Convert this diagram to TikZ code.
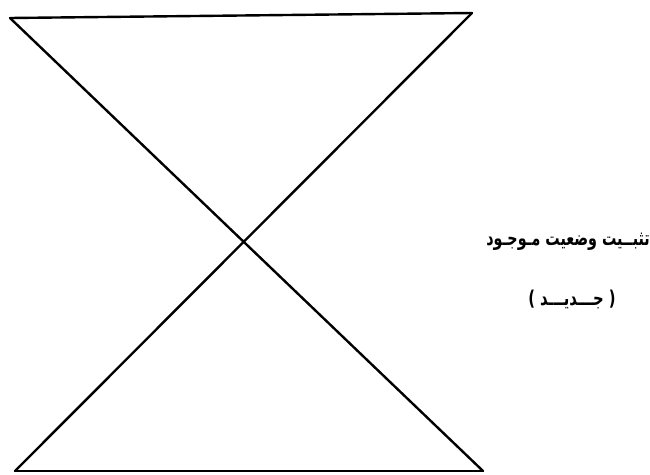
\documentclass[tikz,border=0pt]{standalone}
\usepackage{fontspec}
\newfontfamily\arabicfont[Script=Arabic]{DejaVu Sans}
\TeXXeTstate=1
\begin{document}
\begin{tikzpicture}[x=1pt,y=-1pt,
  edge/.style={draw=black,line width=2.4pt,line cap=round,line join=round},
  lbl/.style={font=\arabicfont\bfseries\fontsize{17}{20}\selectfont,inner sep=0pt}]
\useasboundingbox (0,0) rectangle (650,474);
\coordinate (tl) at (10,18);
\coordinate (tr) at (472,13);
\coordinate (bl) at (15,471);
\coordinate (br) at (483,471);
\draw[edge] (tl) -- (tr);
\draw[edge] (bl) -- (br);
\draw[edge] (tl) -- (br);
\draw[edge] (tr) -- (bl);
\node[lbl,anchor=east] (t1) at (650,242) {\scalebox{0.84}[1.2]{\beginR تثبــیت وضعیت مـوجـود\endR}};
\node[lbl] (t2) at (572,300) {\scalebox{0.87}[1.2]{\beginR( جـــدیـــد )\endR}};
\end{tikzpicture}
\end{document}
